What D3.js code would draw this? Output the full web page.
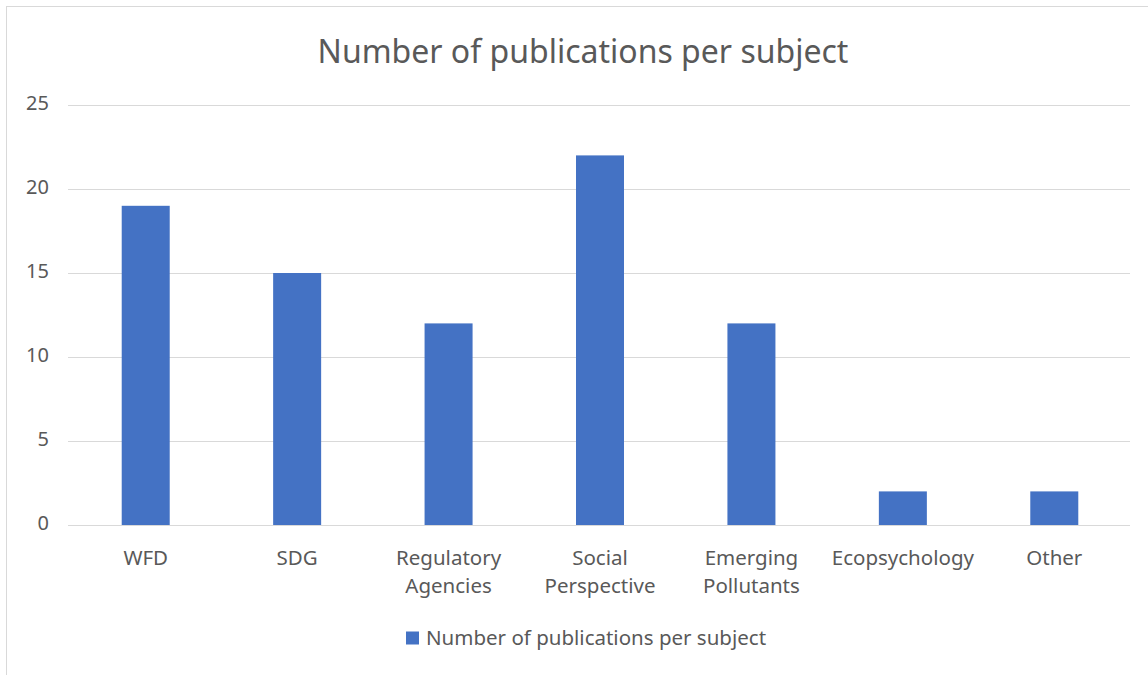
<!DOCTYPE html>
<html>
<head>
<meta charset="utf-8">
<script src="https://cdn.jsdelivr.net/npm/d3@7"></script>
<style>
  body { margin: 0; background: #fff; }
  svg text { font-family: "Noto Sans", sans-serif; fill: #595959; }
</style>
</head>
<body>
<svg id="chart"></svg>
<script>
// chart values
let categories = ["WFD", "SDG", "Regulatory Agencies", "Social Perspective", "Emerging Pollutants", "Ecopsychology", "Other"];
let publications = [19, 15, 12, 22, 12, 2, 2];
let yTicks = [0, 5, 10, 15, 20, 25];
let seriesName = "Number of publications per subject";
let chartTitle = "Number of publications per subject";

let width = 1148,
    height = 675;

let plotLeft = 68,
    plotRight = 1130;

let svg = d3.select("svg#chart")
    .attr("width", width)
    .attr("height", height);

// outer frame
svg.append("rect")
    .attr("x", 6.5).attr("y", 6.5)
    .attr("width", width + 20).attr("height", height + 20)
    .attr("fill", "none")
    .attr("stroke", "#d9d9d9");

let x = d3.scaleBand()
    .domain(categories)
    .range([70, plotRight])
    .paddingInner(0.683)
    .paddingOuter(0.3415);

let y = d3.scaleLinear()
    .domain([0, 25])
    .range([525, 105]);

// gridlines
svg.append("g")
    .selectAll("line")
    .data(yTicks)
    .enter().append("line")
    .attr("x1", plotLeft).attr("x2", plotRight)
    .attr("y1", d => Math.round(y(d)) + 0.5)
    .attr("y2", d => Math.round(y(d)) + 0.5)
    .attr("stroke", "#d9d9d9")
    .attr("stroke-width", 1);

// y tick labels
let yAxis = svg.append("g")
    .attr("transform", "translate(49, -2)")
    .call(d3.axisLeft(y).tickValues(yTicks).tickSize(0).tickPadding(0));
yAxis.select(".domain").remove();
yAxis.selectAll("text")
    .attr("font-size", 20)
    .attr("font-family", "Noto Sans")
    .attr("fill", "#595959");

// bars
svg.append("g")
    .selectAll("rect")
    .data(publications)
    .enter().append("rect")
    .attr("x", (d, i) => x(categories[i]))
    .attr("width", x.bandwidth())
    .attr("y", d => y(d))
    .attr("height", d => y(0) - y(d))
    .attr("fill", "#4472c4");

// category labels, wrapped on two lines like the original
let labels = svg.append("g")
    .selectAll("text")
    .data(categories)
    .enter().append("text")
    .attr("text-anchor", "middle")
    .attr("font-size", 20.5)
    .attr("x", d => x(d) + x.bandwidth() / 2)
    .attr("y", 565);
labels.each(function (d) {
    let words = d.split(" ");
    let t = d3.select(this);
    words.forEach((w, i) => {
        t.append("tspan")
            .attr("x", x(d) + x.bandwidth() / 2)
            .attr("dy", i === 0 ? 0 : 28)
            .text(w);
    });
});

// title
svg.append("text")
    .attr("x", 583)
    .attr("y", 63)
    .attr("text-anchor", "middle")
    .attr("font-size", 32)
    .text(chartTitle);

// legend
let legend = svg.append("g").attr("transform", "translate(406, 638)");
legend.append("rect")
    .attr("x", 0).attr("y", -6.5)
    .attr("width", 13).attr("height", 13)
    .attr("fill", "#4472c4");
legend.append("text")
    .attr("x", 20)
    .attr("y", 0)
    .attr("dy", "0.35em")
    .attr("font-size", 20.5)
    .text(seriesName);
</script>
</body>
</html>
